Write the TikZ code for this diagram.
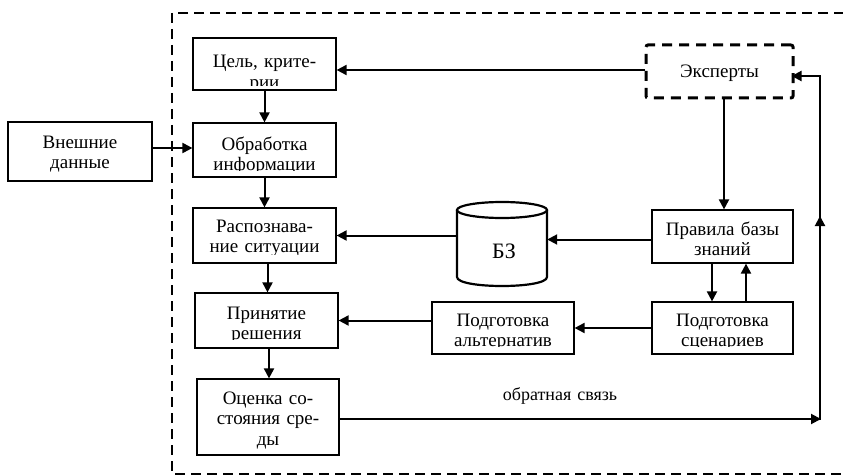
\documentclass[tikz,border=0pt]{standalone}
\usepackage{fontspec}
\setmainfont{Liberation Serif}
\usetikzlibrary{arrows.meta}
\begin{document}
\begin{tikzpicture}[x=1pt,y=-1pt,
  box/.style={draw, line width=1.2pt, fill=white, inner sep=0pt},
  dbox/.style={draw, line width=3pt, dash pattern=on 10pt off 7pt, rounded corners=2pt, inner sep=0pt},
  txt/.style={font=\fontsize{19}{20.5}\selectfont, inner sep=0pt, anchor=base, align=center, text width=#1},
  txt/.default=140pt,
  arr/.style={line width=2pt, -{Triangle[length=10pt,width=10pt]}},
  ln/.style={line width=2pt},
  outer/.style={line width=2.4pt, dash pattern=on 10pt off 6pt},
  cyl/.style={line width=2.2pt}
]
\useasboundingbox (0,0) rectangle (843,476);

% outer dashed frame
\draw[outer] (860,13) -- (172,13) -- (172,474) -- (860,474);

% boxes
\node[box, minimum width=143pt, minimum height=52pt] (cel) at (264.5,64) {};
\node[box, minimum width=143pt, minimum height=54pt] (obr) at (264.5,150) {};
\node[box, minimum width=144pt, minimum height=59pt] (vnesh) at (80,151.5) {};
\node[box, minimum width=143pt, minimum height=55pt] (rasp) at (264.5,235.5) {};
\node[box, minimum width=143pt, minimum height=55pt] (prin) at (266.5,320.5) {};
\node[box, minimum width=142pt, minimum height=76pt] (ocen) at (268,417) {};
\node[dbox, minimum width=147pt, minimum height=53pt] (eks) at (719.5,71.5) {};
\node[box, minimum width=141pt, minimum height=53pt] (prav) at (722.5,236.5) {};
\node[box, minimum width=141pt, minimum height=52pt] (scen) at (722.5,328) {};
\node[box, minimum width=142pt, minimum height=52pt] (alt) at (503,328) {};

% cylinder (knowledge base)
\node[minimum width=90pt, minimum height=83pt, inner sep=0pt] (bz) at (502,243.5) {};
\draw[cyl, fill=white] (457,210) -- (457,277) .. controls (457,289) and (547,289) .. (547,277) -- (547,210);
\draw[cyl] (502,210) ellipse [x radius=45pt, y radius=8pt];
\node[txt=80pt, font=\fontsize{22}{24}\selectfont] (bzt) at (504,258) {БЗ};

% texts
\begin{scope}
\clip (193,38) rectangle (336,86);
\node[txt] (celt) at (264.5,68) {Цель, крите-\\рии};
\end{scope}
\begin{scope}
\clip (193,123) rectangle (336,170);
\node[txt] (obrt) at (264.5,150) {Обработка\\информации};
\end{scope}
\node[txt] (vnesht) at (80,148) {Внешние\\данные};
\begin{scope}
\clip (193,208) rectangle (336,254);
\node[txt] (raspt) at (264.5,232) {Распознава-\\ние ситуации};
\end{scope}
\begin{scope}
\clip (195,293) rectangle (338,339);
\node[txt] (print) at (266.5,319) {Принятие\\решения};
\end{scope}
\node[txt] (ocent) at (268,404) {Оценка со-\\стояния сре-\\ды};
\node[txt] (ekst) at (719.5,78) {Эксперты};
\begin{scope}
\clip (652,210) rectangle (793,256);
\node[txt] (pravt) at (722.5,235) {Правила базы\\знаний};
\end{scope}
\begin{scope}
\clip (652,302) rectangle (793,346);
\node[txt] (scent) at (722.5,326) {Подготовка\\сценариев};
\end{scope}
\begin{scope}
\clip (432,302) rectangle (574,346);
\node[txt] (altt) at (503,326) {Подготовка\\альтернатив};
\end{scope}

% connectors
\draw[arr] ([yshift=1.5pt]eks.west) -- ([yshift=1.5pt]eks.west -| cel.east);
\draw[arr] (cel.south) -- (obr.north);
\draw[arr] ([yshift=3.5pt]vnesh.east) -- ([yshift=3.5pt]vnesh.east -| obr.west);
\draw[arr] (obr.south) -- (rasp.north);
\draw[arr] ([xshift=1.5pt]eks.south -| prav.north) -- ([xshift=1.5pt]prav.north);
\draw[arr] ([yshift=-3pt]prav.west) -- ([yshift=-3pt]prav.west -| bz.east);
\draw[arr] (rasp.east -| bz.west) -- (rasp.east);
\draw[arr] ([xshift=-10.5pt]prav.south) -- ([xshift=-10.5pt]scen.north);
\draw[arr] ([xshift=23.5pt]scen.north) -- ([xshift=23.5pt]prav.south);
\draw[arr] (scen.west) -- (alt.east);
\draw[arr] (alt.west |- prin.east) -- (prin.east);
\draw[arr] ([xshift=3pt]rasp.south) -- ([xshift=3pt]rasp.south |- prin.north);
\draw[arr] ([xshift=2.5pt]prin.south) -- ([xshift=2.5pt]prin.south |- ocen.north);

% feedback loop
\coordinate (fbb) at (820,419);
\coordinate (fbm) at (820,216);
\coordinate (fbt) at (820,76);
\draw[arr] ([yshift=-2pt]ocen.east) -- ([xshift=1pt]fbb);
\draw[arr] ([yshift=-1pt]fbb) -- (fbm);
\draw[ln] ([yshift=-5pt]fbm) -- ([yshift=-1pt]fbt);
\draw[arr] ([xshift=1pt]fbt) -- ([xshift=-3pt]fbt -| eks.east);
\node[txt=160pt, font=\fontsize{18}{20}\selectfont] (fbl) at (560,400) {обратная связь};
\end{tikzpicture}
\end{document}
